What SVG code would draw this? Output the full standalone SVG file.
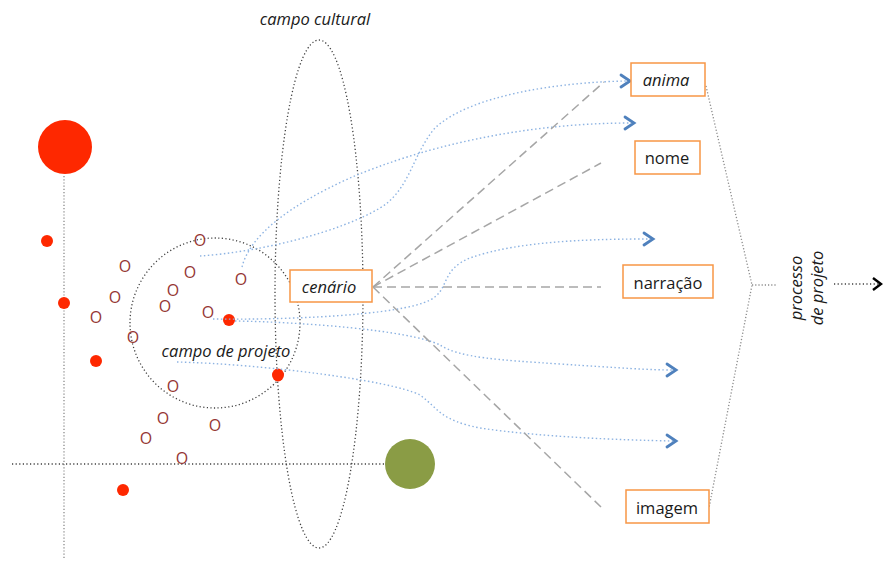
<svg xmlns="http://www.w3.org/2000/svg" width="886" height="561" viewBox="0 0 886 561">
<style>
  .lbl{font-family:"Open Sans","Liberation Sans",sans-serif;font-size:16.5px;fill:#1a1a1a}
  .it{font-style:italic}
  .o{font-family:"Open Sans","Liberation Sans",sans-serif;font-size:16px;fill:#953735;text-anchor:middle}
  .box{fill:#fff;stroke:#f79646;stroke-width:1.5}
  .blue{fill:none;stroke:#8db3e2;stroke-width:1.4;stroke-dasharray:1.5 2.5}
  .chev{fill:none;stroke:#4f81bd;stroke-width:2.8;stroke-linecap:round;stroke-linejoin:miter}
  .dash{fill:none;stroke:#a6a6a6;stroke-width:1.5;stroke-dasharray:9 5}
  .dotk{fill:none;stroke:#404040;stroke-width:1.3;stroke-dasharray:1.2 2.4}
  .dotg{fill:none;stroke:#8c8c8c;stroke-width:1.3;stroke-dasharray:1.2 2}
  .red{fill:#fe2800}
</style>

<!-- axes -->
<g id="axes">
  <line class="dotg" x1="64" y1="176" x2="64" y2="558"/>
  <line class="dotk" x1="12" y1="464" x2="386" y2="464"/>
</g>

<!-- fields -->
<g id="campo-cultural">
  <ellipse class="dotk" cx="319" cy="294" rx="44" ry="254"/>
  <text class="lbl it" x="315" y="25" text-anchor="middle">campo cultural</text>
</g>
<g id="campo-de-projeto">
  <circle class="dotk" cx="215" cy="323" r="85"/>
  <text class="lbl it" x="226" y="357" text-anchor="middle">campo de projeto</text>
</g>

<!-- points -->
<g id="points">
  <circle class="red" cx="65" cy="147" r="27"/>
  <circle class="red" cx="47" cy="241" r="6"/>
  <circle class="red" cx="64" cy="303" r="6"/>
  <circle class="red" cx="96" cy="361" r="6"/>
  <circle class="red" cx="229" cy="320" r="6"/>
  <ellipse class="red" cx="278" cy="375" rx="6" ry="6.5"/>
  <circle class="red" cx="123" cy="490" r="6"/>
  <circle cx="410" cy="464" r="25" fill="#8a9c45"/>
  <text class="o" x="200" y="246">O</text>
  <text class="o" x="125" y="272">O</text>
  <text class="o" x="190" y="278">O</text>
  <text class="o" x="241" y="285">O</text>
  <text class="o" x="173" y="296">O</text>
  <text class="o" x="115" y="303">O</text>
  <text class="o" x="165" y="312">O</text>
  <text class="o" x="208" y="318">O</text>
  <text class="o" x="96" y="323">O</text>
  <text class="o" x="133" y="343">O</text>
  <text class="o" x="173" y="392">O</text>
  <text class="o" x="163" y="424">O</text>
  <text class="o" x="215" y="431">O</text>
  <text class="o" x="146" y="444">O</text>
  <text class="o" x="182" y="464">O</text>
</g>

<!-- connectors -->
<g id="connectors">
  <path class="blue" d="M200,256 C260,252 340,232 380,208 C410,190 412,155 435,128 C470,95 560,82 627,81"/>
  <path class="blue" d="M242,267 C250,235 290,205 350,178 C420,148 520,123 631,123"/>
  <path class="blue" d="M213,319 C280,320 400,316 430,300 C450,290 440,270 470,258 C520,240 600,239 650,239"/>
  <path class="blue" d="M235,321 C300,322 410,330 440,345 C460,358 500,360 560,364 C620,368 650,370 673,370"/>
  <path class="blue" d="M177,362 C260,364 390,380 420,395 C440,410 440,420 480,428 C540,437 620,440 673,441"/>
  <polyline class="chev" points="621,75 630,81 621,87"/>
  <polyline class="chev" points="625,117 634,123 625,129"/>
  <polyline class="chev" points="644,233 653,239 644,245"/>
  <polyline class="chev" points="667,364 676,370 667,376"/>
  <polyline class="chev" points="667,435 676,441 667,447"/>

  <line class="dash" x1="373" y1="287" x2="604" y2="82"/>
  <line class="dash" x1="373" y1="287" x2="601" y2="163"/>
  <line class="dash" x1="373" y1="287" x2="601" y2="287"/>
  <line class="dash" x1="373" y1="287" x2="601" y2="507"/>

  <polyline class="dotg" points="706,86 752,285 709,508"/>
  <line class="dotg" x1="752" y1="285" x2="777" y2="285"/>
  <line class="dotk" x1="834" y1="284" x2="879" y2="284"/>
  <polyline fill="none" stroke="#000" stroke-width="2.4" points="873,278 881,284 873,290"/>
</g>

<!-- nodes -->
<g id="cenario">
  <rect class="box" x="290" y="270" width="82" height="32"/>
  <text class="lbl it" x="329" y="293" text-anchor="middle">cenário</text>
</g>
<g id="anima">
  <rect class="box" x="631" y="63" width="74" height="33"/>
  <text class="lbl it" x="666" y="86" text-anchor="middle">anima</text>
</g>
<g id="nome">
  <rect class="box" x="635" y="141" width="65" height="33"/>
  <text class="lbl" x="667" y="164" text-anchor="middle">nome</text>
</g>
<g id="narracao">
  <rect class="box" x="623" y="265" width="90" height="33"/>
  <text class="lbl" x="668" y="289" text-anchor="middle">narração</text>
</g>
<g id="imagem">
  <rect class="box" x="626" y="490" width="83" height="33"/>
  <text class="lbl" x="667" y="514" text-anchor="middle">imagem</text>
</g>
<g id="processo">
  <text class="lbl it" transform="translate(802,288) rotate(-90)" text-anchor="middle">processo</text>
  <text class="lbl it" transform="translate(823,288) rotate(-90)" text-anchor="middle">de projeto</text>
</g>
</svg>
